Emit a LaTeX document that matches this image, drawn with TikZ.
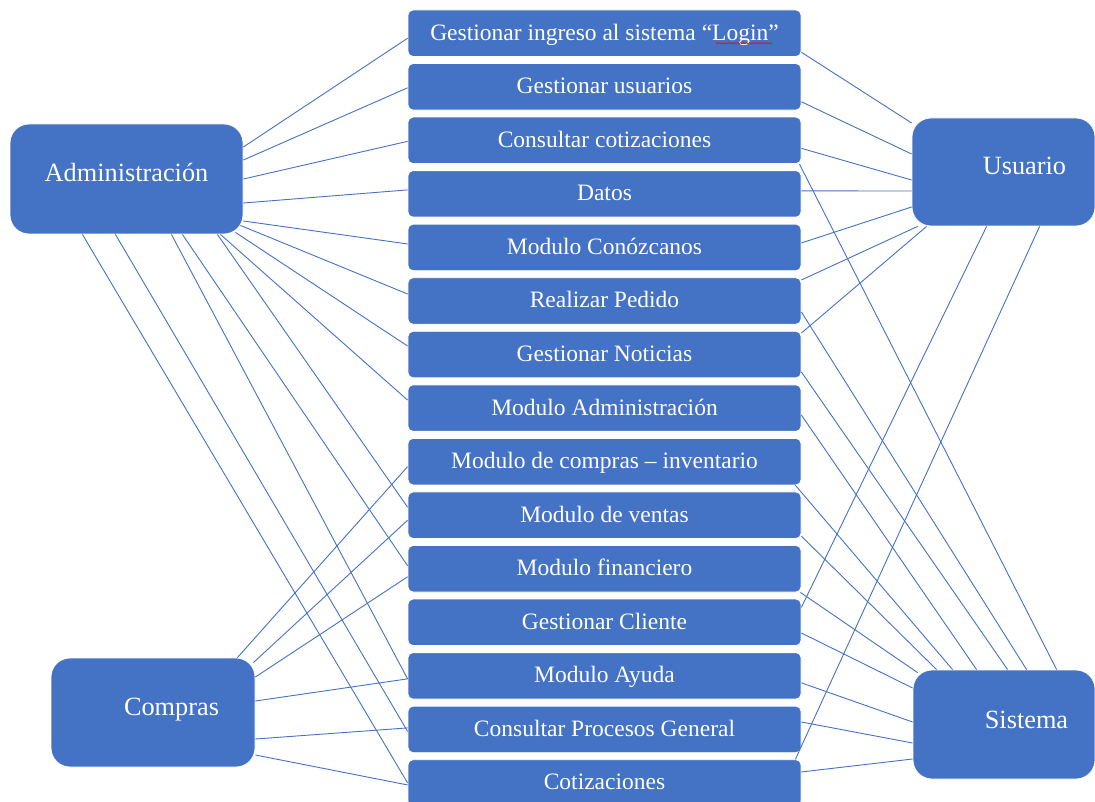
\documentclass[tikz,border=0pt]{standalone}
\usepackage{fontspec}
\setmainfont{Liberation Serif}
\usetikzlibrary{positioning, calc, decorations.pathmorphing}
\definecolor{boxBlue}{HTML}{4472C4}
\definecolor{lineBlue}{HTML}{4472C4}

\begin{document}
\begin{tikzpicture}[x=1pt, y=-1pt,
    modbox/.style={fill=boxBlue, draw=white, line width=0.8pt, rounded corners=5pt,
        minimum width=393pt, minimum height=46.5pt, inner sep=0pt, text=white,
        font=\fontsize{23.5}{26}\selectfont, text height=17pt, text depth=3pt},
    bigbox/.style={fill=boxBlue, draw=white, line width=0.8pt, rounded corners=19pt, inner sep=0pt},
    bigtxt/.style={text=white, inner sep=0pt, font=\fontsize{26.3}{30}\selectfont,
        text height=18pt, text depth=4pt},
    link/.style={lineBlue, line width=0.9pt}]
    \clip (0,0) rectangle (1095,802);

    % actores
    \node[bigbox, minimum width=233pt, minimum height=110pt] (adm) at (126.5,179) {};
    \node[bigbox, minimum width=204pt, minimum height=109pt] (cmp) at (153,712.5) {};
    \node[bigbox, minimum width=183pt, minimum height=108pt] (usr) at (1003.5,172) {};
    \node[bigbox, minimum width=182pt, minimum height=109pt] (sys) at (1004,724.5) {};
    \node[bigtxt] (admlbl) at ([yshift=4]adm.center) {Administración};
    \node[bigtxt] (cmplbl) at ([xshift=18.5,yshift=4.5]cmp.center) {Compras};
    \node[bigtxt] (usrlbl) at ([xshift=21,yshift=4]usr.center) {Usuario};
    \node[bigtxt] (syslbl) at ([xshift=22.5,yshift=3.5]sys.center) {Sistema};

    % modulos
    \foreach \txt [count=\i] in {Gestionar ingreso al sistema “Login”, Gestionar usuarios,
        Consultar cotizaciones, Datos, Modulo Conózcanos, Realizar Pedido, Gestionar Noticias,
        Modulo Administración, Modulo de compras – inventario, Modulo de ventas,
        Modulo financiero, Gestionar Cliente, Modulo Ayuda, Consultar Procesos General, Cotizaciones}
        \node[modbox] (m\i) at (604.5, {33.25+53.55*(\i-1)}) {\txt};
    \draw[red, line width=0.6pt, decorate, decoration={snake, amplitude=0.7pt, segment length=3pt}]
        ([xshift=111,yshift=-10]m1.center) -- ([xshift=168,yshift=-10]m1.center);

    % Administracion
    \foreach \a/\k/\b in {32/1/-5, 19/2/-1, 0/3/-1, -24/4/4, -42/5/3.5}
        \draw[link] ([yshift=\a]adm.east) -- ([yshift=\b]m\k.west);
    \draw[link] ([xshift=-3,yshift=9]adm.south east) -- ([yshift=7]m6.west);
    \draw[link] ([xshift=-8,yshift=2]adm.south east) -- ([yshift=8.5]m7.west);
    \foreach \a/\k/\b in {-23/8/8, -26/10/8, -61/11/3, -72/13/-3, -128/14/-2, -161/15/0}
        \draw[link] ([xshift=\a]adm.south east) -- ([yshift=\b]m\k.west);

    % Compras
    \draw[link] ([xshift=-18]cmp.north east) -- ([yshift=-5]m9.west);
    \draw[link] ([xshift=-2,yshift=-5]cmp.north east) -- ([yshift=-5]m10.west);
    \foreach \a/\k/\b in {35.5/11/-8, 11.5/13/-3, -26.5/14/1.5, -42.5/15/-2}
        \draw[link] ([yshift=\a]cmp.east) -- ([yshift=\b]m\k.west);

    % Usuario
    \foreach \b/\k/\a in {-19/1/49, -15/2/18, -8/3/-8, 3/4/-19, 4.5/5/-35}
        \draw[link] ([yshift=\b]m\k.east) -- ([yshift=\a]usr.west);
    \foreach \b/\k/\a in {21/6/6, 21.5/7/15, 15/12/75}
        \draw[link] ([yshift=\b]m\k.east) -- ([xshift=\a]usr.south west);
    \draw[link] ([xshift=-6]m15.north east) -- ([xshift=128]usr.south west);

    % Sistema
    \draw[link] ([xshift=-2]m3.south east) -- ([xshift=144]sys.north west);
    \foreach \b/\k/\a in {-11/6/114, -17.5/7/95, -7/8/64, -21/10/24}
        \draw[link] ([yshift=\b]m\k.east) -- ([xshift=\a]sys.north west);
    \draw[link] ([xshift=-6]m9.south east) -- ([xshift=40]sys.north west);
    \draw[link] ([xshift=-1]m11.south east) -- ([xshift=5,yshift=-3]sys.north west);
    \foreach \b/\k/\a in {-10.7/12/36.5, -7/13/2.5, 7.4/14/-18.5, 11/15/-34.5}
        \draw[link] ([yshift=\b]m\k.east) -- ([yshift=\a]sys.west);
\end{tikzpicture}
\end{document}
